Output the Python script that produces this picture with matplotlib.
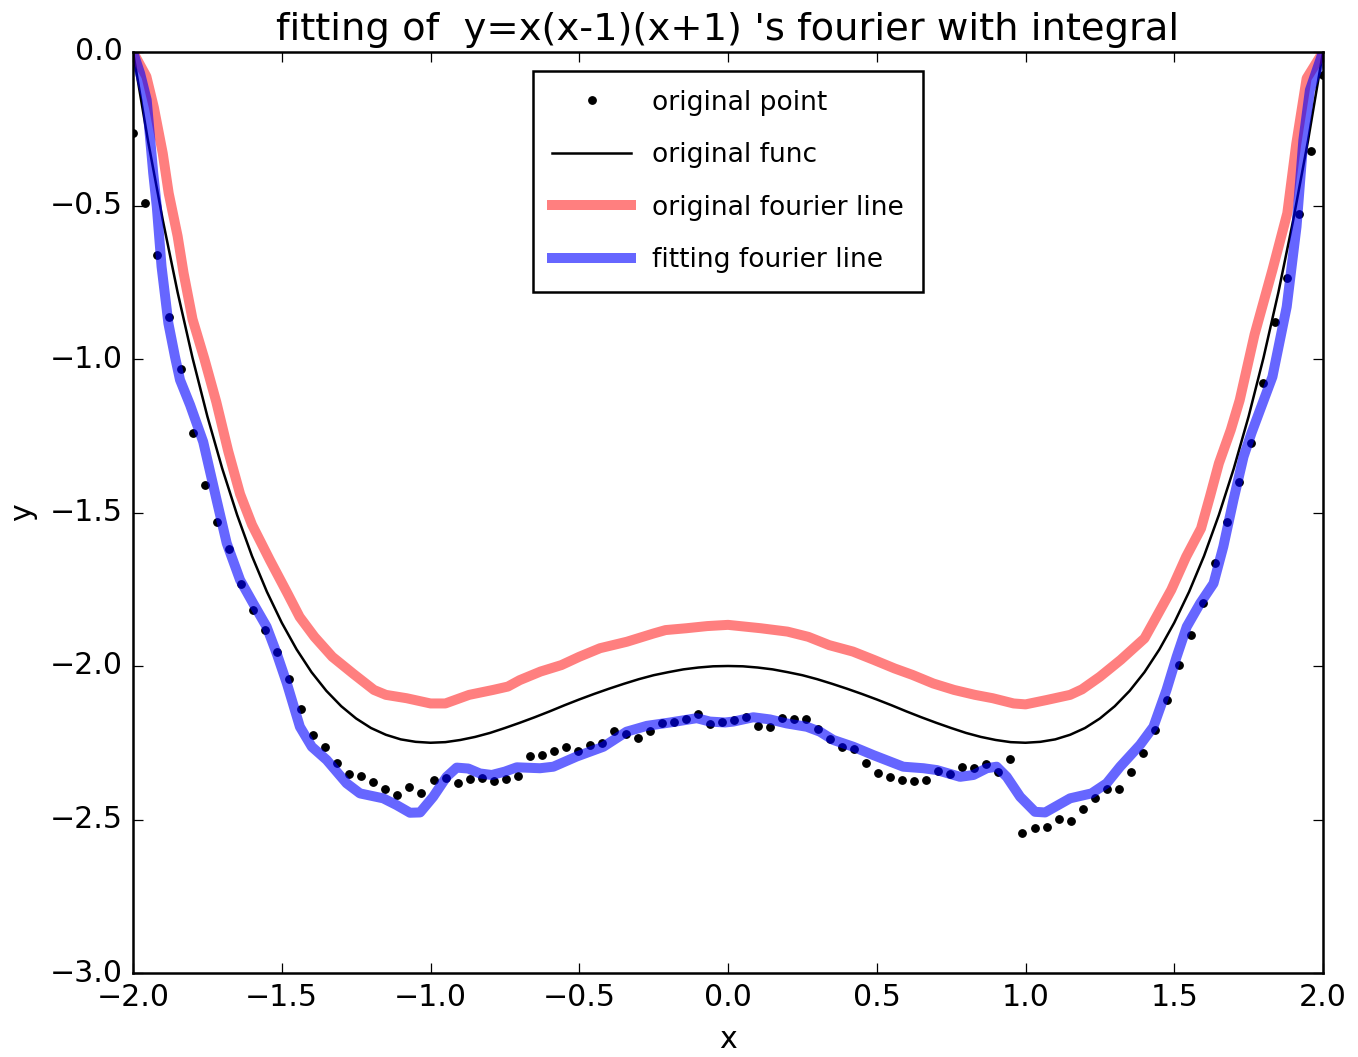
import numpy as np
import matplotlib
matplotlib.use("Agg")
import matplotlib.pyplot as plt

# sampled points (100 points on [-2, 2])
point_y = [-0.263, -0.493, -0.662, -0.864, -1.034, -1.242, -1.409, -1.531, -1.618, -1.732,
           -1.819, -1.883, -1.953, -2.041, -2.140, -2.225, -2.264, -2.315, -2.352, -2.358,
           -2.377, -2.400, -2.419, -2.395, -2.415, -2.370, -2.364, -2.381, -2.367, -2.364,
           -2.375, -2.367, -2.359, -2.294, -2.289, -2.277, -2.264, -2.278, -2.256, -2.250,
           -2.212, -2.222, -2.234, -2.212, -2.187, -2.184, -2.173, -2.156, -2.188, -2.184,
           -2.176, -2.166, -2.197, -2.198, -2.169, -2.172, -2.174, -2.205, -2.239, -2.264,
           -2.270, -2.316, -2.349, -2.363, -2.371, -2.375, -2.371, -2.341, -2.351, -2.329,
           -2.331, -2.320, -2.345, -2.304, -2.545, -2.528, -2.525, -2.498, -2.505, -2.465,
           -2.431, -2.400, -2.400, -2.344, -2.283, -2.208, -2.111, -1.997, -1.900, -1.795,
           -1.666, -1.531, -1.401, -1.275, -1.079, -0.878, -0.737, -0.529, -0.321, -0.075]
point_x = np.linspace(-2, 2, len(point_y))

# original function (right half, the curve is symmetric)
func_x_half = [0.0, 0.05, 0.1, 0.15, 0.2, 0.25, 0.3, 0.35, 0.4, 0.45, 0.5, 0.55, 0.6,
               0.65, 0.7, 0.75, 0.8, 0.85, 0.9, 0.95, 1.0, 1.05, 1.1, 1.15, 1.2, 1.25,
               1.3, 1.35, 1.4, 1.45, 1.5, 1.55, 1.6, 1.65, 1.7, 1.75, 1.8, 1.85, 1.9,
               1.95, 2.0]
func_y_half = [-2.000, -2.001, -2.005, -2.011, -2.020, -2.030, -2.043, -2.058, -2.074,
               -2.091, -2.109, -2.128, -2.148, -2.167, -2.185, -2.202, -2.218, -2.231,
               -2.241, -2.248, -2.250, -2.247, -2.239, -2.224, -2.202, -2.171, -2.131,
               -2.081, -2.020, -1.946, -1.859, -1.758, -1.642, -1.508, -1.357, -1.187,
               -0.996, -0.783, -0.547, -0.287, 0.0]
func_x = [-v for v in func_x_half[:0:-1]] + func_x_half
func_y = func_y_half[:0:-1] + func_y_half

# original fourier line
red_x = [-2.0, -1.955, -1.93, -1.90, -1.88, -1.85, -1.83, -1.80, -1.76, -1.72, -1.68,
         -1.64, -1.60, -1.54, -1.48, -1.44, -1.39, -1.33, -1.26, -1.19, -1.15, -1.08,
         -1.00, -0.95, -0.87, -0.79, -0.74, -0.70, -0.63, -0.56, -0.50, -0.43, -0.34,
         -0.25, -0.21, -0.14, -0.07, 0.00, 0.04, 0.11, 0.20, 0.27, 0.34, 0.42, 0.49,
         0.56, 0.62, 0.69, 0.76, 0.83, 0.89, 0.96, 1.00, 1.07, 1.15, 1.19, 1.25, 1.32,
         1.40, 1.44, 1.49, 1.54, 1.59, 1.62, 1.65, 1.69, 1.72, 1.77, 1.83, 1.88, 1.91,
         1.945, 2.0]
red_y = [0.0, -0.08, -0.18, -0.33, -0.46, -0.60, -0.72, -0.87, -1.00, -1.14, -1.30,
         -1.44, -1.54, -1.655, -1.765, -1.84, -1.905, -1.97, -2.025, -2.078, -2.094, -2.105,
         -2.122, -2.122, -2.094, -2.078, -2.067, -2.046, -2.018, -1.997, -1.970, -1.942, -1.921,
         -1.894, -1.883, -1.877, -1.870, -1.866, -1.870, -1.877, -1.888, -1.905, -1.932, -1.953, -1.980,
         -2.008, -2.029, -2.057, -2.078, -2.094, -2.105, -2.122, -2.125, -2.111, -2.094, -2.076, -2.035, -1.98,
         -1.91, -1.84, -1.752, -1.644, -1.552, -1.448, -1.34, -1.231, -1.134, -0.92, -0.71, -0.525, -0.30,
         -0.086, 0.0]

# fitting fourier line
blue_x = [-2.0, -1.976, -1.954, -1.932, -1.920, -1.904, -1.881, -1.859, -1.842, -1.808,
          -1.764, -1.719, -1.685, -1.640, -1.596, -1.551, -1.517, -1.483, -1.439, -1.399,
          -1.349, -1.282, -1.237, -1.159, -1.114, -1.069, -1.035, -0.991, -0.946, -0.912,
          -0.873, -0.834, -0.794, -0.750, -0.710, -0.632, -0.587, -0.509, -0.419, -0.341,
          -0.273, -0.195, -0.105, -0.061, -0.010, 0.018, 0.085, 0.141, 0.197, 0.265,
          0.309, 0.354, 0.421, 0.488, 0.589, 0.657, 0.702, 0.780, 0.825, 0.870,
          0.903, 0.937, 0.982, 1.032, 1.066, 1.150, 1.222, 1.273, 1.318, 1.385,
          1.430, 1.474, 1.508, 1.542, 1.587, 1.632, 1.665, 1.699, 1.733, 1.760,
          1.830, 1.878, 1.911, 1.934, 1.956, 2.0]
blue_y = [0.0, -0.07, -0.156, -0.395, -0.504, -0.699, -0.884, -0.992, -1.068, -1.150,
          -1.270, -1.459, -1.600, -1.720, -1.796, -1.872, -1.959, -2.056, -2.198, -2.263,
          -2.306, -2.382, -2.415, -2.431, -2.453, -2.478, -2.477, -2.426, -2.361, -2.331,
          -2.334, -2.350, -2.355, -2.344, -2.330, -2.333, -2.328, -2.295, -2.263, -2.214,
          -2.195, -2.184, -2.170, -2.181, -2.184, -2.181, -2.167, -2.174, -2.187, -2.198,
          -2.214, -2.241, -2.263, -2.290, -2.328, -2.333, -2.339, -2.361, -2.355, -2.333,
          -2.328, -2.361, -2.426, -2.475, -2.477, -2.431, -2.415, -2.382, -2.328, -2.257,
          -2.198, -2.078, -1.970, -1.872, -1.796, -1.731, -1.611, -1.459, -1.318, -1.240,
          -1.058, -0.830, -0.569, -0.287, -0.124, 0.0]

plt.style.use("classic")
dpi = 180
fig = plt.figure(figsize=(1358 / dpi, 1057 / dpi), dpi=dpi, facecolor="white")
ax = fig.add_axes([133 / 1358, 84 / 1057, 1190 / 1358, 921 / 1057])

ax.plot(point_x, point_y, "k.", label="original point")
ax.plot(func_x, func_y, "k-", linewidth=1, label="original func")
ax.plot(red_x, red_y, color="red", alpha=0.5, linewidth=4, label="original fourier line")
ax.plot(blue_x, blue_y, color="blue", alpha=0.6, linewidth=4, label="fitting fourier line")

ax.set_xlim(-2, 2)
ax.set_ylim(-3, 0)
ax.set_xticks(np.arange(-2, 2.01, 0.5))
ax.set_yticks(np.arange(-3, 0.01, 0.5))
ax.set_xlabel("x")
ax.set_ylabel("y")
ax.set_title("fitting of  y=x(x-1)(x+1) 's fourier with integral", fontsize=15.4)
ax.legend(loc="upper center", numpoints=1, fontsize=10.6, handlelength=3.0,
          labelspacing=1.0, borderpad=0.7, handletextpad=0.8, borderaxespad=0.72)

fig.savefig("out.png", dpi=dpi, facecolor="white")
